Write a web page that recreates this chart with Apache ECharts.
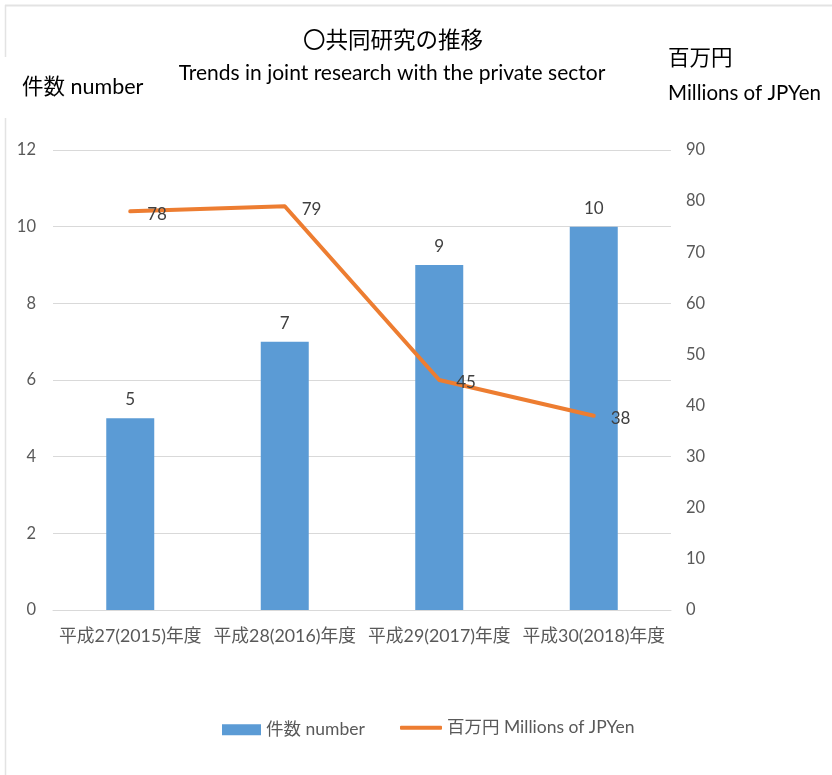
<!DOCTYPE html>
<html>
<head>
<meta charset="utf-8">
<script src="https://cdn.jsdelivr.net/npm/echarts@6/dist/echarts.min.js"></script>
<style>
html,body{margin:0;padding:0;background:#fff;}
#main{width:832px;height:775px;}
</style>
</head>
<body>
<div id="main"></div>
<script>
const categories = ['平成27(2015)年度', '平成28(2016)年度', '平成29(2017)年度', '平成30(2018)年度'];
const countValues = [5, 7, 9, 10];
const amountValues = [78, 79, 45, 38];
const leftTicks = {min: 0, max: 12, interval: 2};
const rightTicks = {min: 0, max: 90, interval: 10};
const seriesNames = ['件数 number', '百万円 Millions of JPYen'];

const FONT = "Lato, 'Noto Sans CJK JP', sans-serif";
const chart = echarts.init(document.getElementById('main'), null, {renderer: 'canvas'});
chart.setOption({
  backgroundColor: '#fff',
  animation: false,
  textStyle: {fontFamily: FONT},
  title: [
    {text: '〇共同研究の推移', left: 393, top: 29, textAlign: 'center', padding: 0,
     textStyle: {fontSize: 22.5, fontWeight: 'normal', color: '#000', fontFamily: FONT}},
    {text: 'Trends in joint research with the private sector', left: 392, top: 63, textAlign: 'center', padding: 0,
     textStyle: {fontSize: 21, fontWeight: 'normal', color: '#000', fontFamily: FONT}},
    {text: '件数 number', left: 22, top: 76, padding: 0,
     textStyle: {fontSize: 21.5, fontWeight: 'normal', color: '#000', fontFamily: FONT}},
    {text: '百万円', left: 668, top: 47, padding: 0,
     textStyle: {fontSize: 21.5, fontWeight: 'normal', color: '#000', fontFamily: FONT}},
    {text: 'Millions of JPYen', left: 668, top: 83, padding: 0,
     textStyle: {fontSize: 20.5, fontWeight: 'normal', color: '#000', fontFamily: FONT}}
  ],
  graphic: [
    {type: 'line', shape: {x1: 5, y1: 5.5, x2: 832, y2: 5.5}, style: {stroke: '#e3e3e3', lineWidth: 2}},
    {type: 'line', shape: {x1: 5.5, y1: 5, x2: 5.5, y2: 57}, style: {stroke: '#e3e3e3', lineWidth: 1.5}},
    {type: 'line', shape: {x1: 5.5, y1: 118, x2: 5.5, y2: 775}, style: {stroke: '#e3e3e3', lineWidth: 1.5}}
  ],
  legend: [
    {left: 222, top: 721, padding: 0, itemWidth: 39, itemHeight: 11, itemGap: 4,
     textStyle: {fontSize: 17.5, color: '#595959', fontFamily: FONT, padding: [10, 0, 0, 0]},
     data: [{name: seriesNames[0], icon: 'rect'}]},
    {left: 400, top: 719, padding: 0, itemWidth: 42, itemHeight: 4, itemGap: 4,
     textStyle: {fontSize: 17.5, color: '#595959', fontFamily: FONT},
     data: [{name: seriesNames[1], icon: 'roundRect'}]}
  ],
  grid: {left: 53, right: 161, top: 150, bottom: 165, containLabel: false},
  xAxis: {
    type: 'category', data: categories,
    axisLine: {show: true, lineStyle: {color: '#d9d9d9', width: 1}},
    axisTick: {show: false},
    axisLabel: {color: '#595959', fontSize: 17.8, margin: 17, fontFamily: FONT, interval: 0}
  },
  yAxis: [
    {type: 'value', min: leftTicks.min, max: leftTicks.max, interval: leftTicks.interval,
     axisLine: {show: false}, axisTick: {show: false},
     axisLabel: {color: '#595959', fontSize: 16.5, margin: 17, fontFamily: FONT},
     splitLine: {lineStyle: {color: '#d9d9d9', width: 1}}},
    {type: 'value', min: rightTicks.min, max: rightTicks.max, interval: rightTicks.interval,
     axisLine: {show: false}, axisTick: {show: false},
     axisLabel: {color: '#595959', fontSize: 16.5, margin: 15, fontFamily: FONT},
     splitLine: {show: false}}
  ],
  series: [
    {name: seriesNames[0], type: 'bar', data: countValues, yAxisIndex: 0, barWidth: 48,
     itemStyle: {color: '#5b9bd5'},
     label: {show: true, position: 'top', distance: 10, color: '#404040', fontSize: 17, fontFamily: FONT}},
    {name: seriesNames[1], type: 'line', data: amountValues, yAxisIndex: 1,
     symbol: 'circle', symbolSize: 2, showSymbol: true,
     lineStyle: {color: '#ed7d31', width: 4, cap: 'round', join: 'round'},
     itemStyle: {color: '#ed7d31'},
     label: {show: true, position: 'right', distance: 16, color: '#404040', fontSize: 17, fontFamily: FONT, offset: [0, 3]}}
  ]
});
</script>
</body>
</html>
